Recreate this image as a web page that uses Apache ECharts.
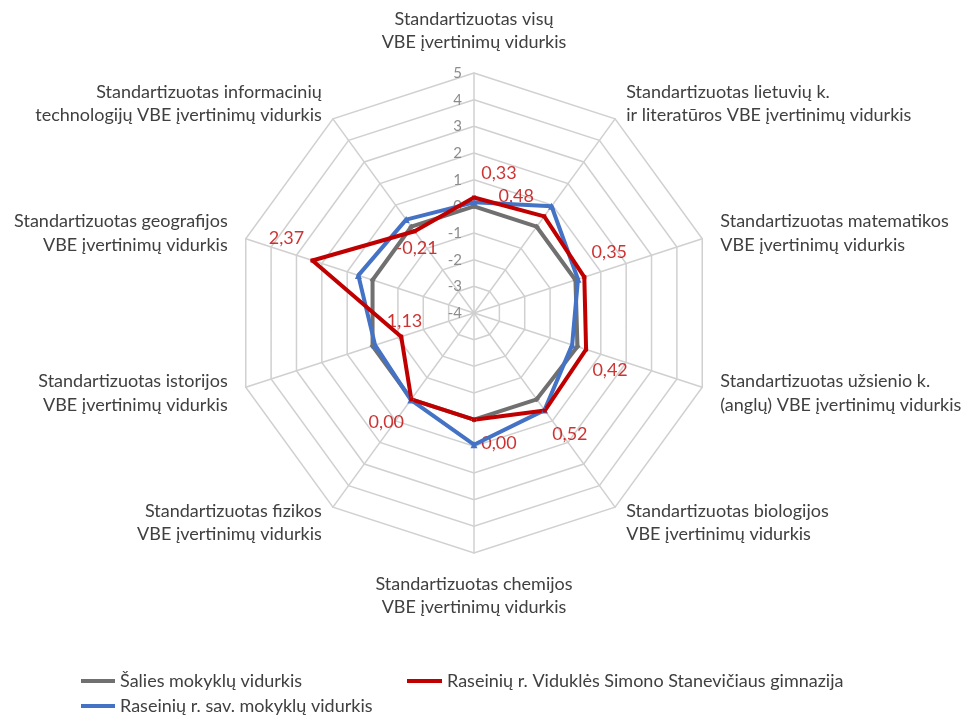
<!DOCTYPE html>
<html>
<head>
<meta charset="utf-8">
<script src="https://cdn.jsdelivr.net/npm/echarts@6/dist/echarts.min.js"></script>
<style>
html,body{margin:0;padding:0;background:#fff;}
#container{width:973px;height:718px;}
</style>
</head>
<body>
<div id="container"></div>
<script>
// rodikliai, pagal laikrodzio rodykle nuo virsaus
var indicatorNames = [
  'Standartizuotas visų\nVBE įvertinimų vidurkis',
  'Standartizuotas lietuvių k.\nir literatūros VBE įvertinimų vidurkis',
  'Standartizuotas matematikos\nVBE įvertinimų vidurkis',
  'Standartizuotas užsienio k.\n(anglų) VBE įvertinimų vidurkis',
  'Standartizuotas biologijos\nVBE įvertinimų vidurkis',
  'Standartizuotas chemijos\nVBE įvertinimų vidurkis',
  'Standartizuotas fizikos\nVBE įvertinimų vidurkis',
  'Standartizuotas istorijos\nVBE įvertinimų vidurkis',
  'Standartizuotas geografijos\nVBE įvertinimų vidurkis',
  'Standartizuotas informacinių\ntechnologijų VBE įvertinimų vidurkis'
];
var seriesNames = ['Šalies mokyklų vidurkis', 'Raseinių r. sav. mokyklų vidurkis', 'Raseinių r. Viduklės Simono Stanevičiaus gimnazija'];
var salies = [0, 0, 0, 0.08, 0, 0, 0, 0, 0, 0];
var raseiniai = [0.15, 0.95, 0.1, -0.13, 0.5, 0.94, 0.03, -0.1, 0.56, 0.33];
var gimnazija = [0.33, 0.48, 0.35, 0.42, 0.52, 0.00, 0.00, -1.13, 2.37, -0.21];
var axisMin = -4, axisMax = 5;

// etikeciu poslinkiai (tik isdestymas)
var labelOffsets = [[25,-24],[-28,-20],[25,-25],[24,21],[25,24],[25,24],[-25,23],[0,-15],[-26,-22],[2,17]];

var dom = document.getElementById('container');
var myChart = echarts.init(dom);

// echarts radar eina pries laikrodzio rodykle
var ccw = [0, 9, 8, 7, 6, 5, 4, 3, 2, 1];
function reorder(arr) { return ccw.map(function (i) { return arr[i]; }); }

var indicators = ccw.map(function (i) {
  return {name: indicatorNames[i], min: axisMin, max: axisMax};
});
indicators[0].axisLabel = {show: true};

var font = 'Lato';
var colors = ['#707070', '#4472c4', '#c00000'];

var option = {
  backgroundColor: '#fff',
  animation: false,
  textStyle: {fontFamily: font},
  legend: [{
    data: [seriesNames[0], seriesNames[1]],
    orient: 'vertical',
    left: 81, top: 672, padding: 0,
    itemGap: 7, itemWidth: 34, itemHeight: 4, icon: 'rect',
    textStyle: {fontSize: 18, color: '#404040', fontFamily: font}
  }, {
    data: [seriesNames[2]],
    left: 407, top: 672, padding: 0,
    itemWidth: 35, itemHeight: 4, icon: 'rect',
    textStyle: {fontSize: 18, color: '#404040', fontFamily: font}
  }],
  radar: {
    center: [474, 313],
    radius: 240,
    startAngle: 90,
    shape: 'polygon',
    splitNumber: 9,
    nameGap: 19,
    indicator: indicators,
    axisName: {color: '#404040', fontSize: 18, lineHeight: 23.5, fontFamily: font},
    axisLabel: {show: false, color: '#8c8c8c', fontSize: 15, margin: 12, fontFamily: font},
    axisTick: {show: false},
    splitArea: {show: false},
    splitLine: {lineStyle: {color: '#d0d0d0', width: 1.5}},
    axisLine: {lineStyle: {color: '#d0d0d0', width: 1.5}}
  },
  polar: {center: [474, 313], radius: 240},
  angleAxis: {
    type: 'category', data: indicatorNames, startAngle: 90, clockwise: true,
    boundaryGap: false, show: false
  },
  radiusAxis: {min: axisMin, max: axisMax, show: false},
  series: [{
    type: 'radar',
    z: 3,
    data: [
      {value: reorder(salies), name: seriesNames[0], symbol: 'diamond', symbolSize: 6,
        lineStyle: {color: colors[0], width: 4}, itemStyle: {color: colors[0]}},
      {value: reorder(raseiniai), name: seriesNames[1], symbol: 'triangle', symbolSize: 7,
        lineStyle: {color: colors[1], width: 4}, itemStyle: {color: colors[1]}},
      {value: reorder(gimnazija), name: seriesNames[2], symbol: 'rect', symbolSize: 4,
        lineStyle: {color: colors[2], width: 4}, itemStyle: {color: colors[2]}}
    ]
  }, {
    // reiksmiu etiketes gimnazijai
    type: 'scatter',
    coordinateSystem: 'polar',
    z: 1,
    symbolSize: 0,
    silent: true,
    itemStyle: {color: 'transparent'},
    label: {
      show: true, position: 'inside', color: '#c00000', fontSize: 18, fontFamily: font,
      formatter: function (p) { return p.value[0].toFixed(2).replace('.', ','); }
    },
    data: gimnazija.map(function (v, i) {
      return {value: [v, i], label: {offset: labelOffsets[i]}};
    })
  }]
};

if (option && typeof option === 'object') {
  myChart.setOption(option, true);
}
</script>
</body>
</html>
